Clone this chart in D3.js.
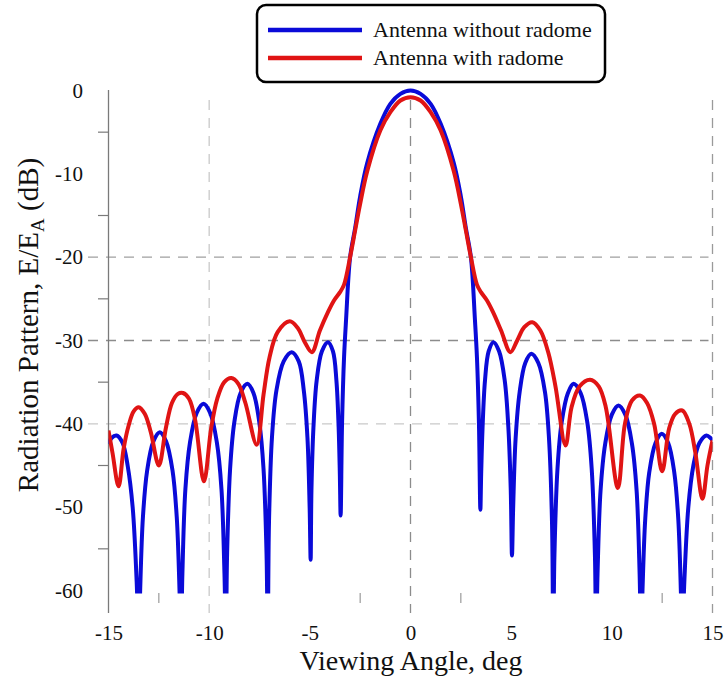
<!DOCTYPE html>
<html>
<head>
<meta charset="utf-8">
<script src="https://cdn.jsdelivr.net/npm/d3@7"></script>
<style>
  body { margin: 0; background: #fff; }
  svg { display: block; font-family: "Liberation Serif", "Times New Roman", serif; }
</style>
</head>
<body>
<svg id="chart" width="725" height="679"></svg>
<script>
// ---- data ----
const xTicks = [-15, -10, -5, 0, 5, 10, 15];
const yTicks = [0, -10, -20, -30, -40, -50, -60];
const seriesNames = ["Antenna without radome", "Antenna with radome"];

const blueAngles = [
  -15, -14.85, -14.6, -14.3, -14.05, -13.8, -13.6, -13.5,
  -13.44, -13.29, -13.08, -12.77, -12.45, -12.14, -11.82, -11.61, -11.46, -11.4,
  -11.33, -11.18, -10.95, -10.62, -10.28, -9.95, -9.62, -9.39, -9.24, -9.17,
  -9.11, -8.96, -8.75, -8.44, -8.1, -7.8, -7.51, -7.3, -7.15, -7.09,
  -7.03, -6.88, -6.66, -6.3, -5.9, -5.55, -5.3, -5.12, -5.01, -4.96,
  -4.92, -4.82, -4.66, -4.4, -4.1, -3.85, -3.68, -3.57, -3.51, -3.47,
  -3.4, -3.3, -3.2, -3.0, -2.75, -2.5, -2.15, -1.5, -1.0, -0.5, 0,
  0.5, 1.0, 1.5, 2.15, 2.5, 2.75, 3.0, 3.2, 3.3, 3.4, 3.47,
  3.51, 3.58, 3.7, 3.88, 4.12, 4.4, 4.68, 4.86, 4.98, 5.04,
  5.1, 5.22, 5.42, 5.7, 6.0, 6.35, 6.68, 6.88, 7.03, 7.09,
  7.15, 7.3, 7.51, 7.82, 8.1, 8.45, 8.78, 9.0, 9.16, 9.22,
  9.29, 9.44, 9.67, 10.0, 10.33, 10.67, 11.0, 11.23, 11.38, 11.45,
  11.51, 11.66, 11.86, 12.17, 12.48, 12.8, 13.1, 13.3, 13.44, 13.5,
  13.6, 13.8, 14.05, 14.35, 14.7, 14.9, 15
];
const blueValues = [
  -42.4, -41.7, -41.4, -42.3, -45, -50, -59, -66,
  -61, -51.2, -45.6, -42.1, -41.0, -42.1, -45.6, -51.2, -61, -66,
  -58, -47.8, -42.2, -38.7, -37.6, -38.7, -42.2, -47.8, -58, -66,
  -55.7, -45.4, -39.8, -36.3, -35.2, -36.3, -39.8, -45.4, -55.7, -66,
  -52, -41.6, -36.0, -32.5, -31.4, -32.5, -36.0, -41.6, -50, -56.3,
  -48, -40.4, -34.8, -31.3, -30.2, -31.3, -34.8, -40.4, -46, -51,
  -40, -32, -27.5, -20, -16.5, -12.7, -8.7, -4.0, -1.6, -0.4, 0,
  -0.4, -1.6, -4.0, -8.7, -12.7, -16.5, -20, -27.5, -32, -40, -50.3,
  -46, -40.4, -34.8, -31.3, -30.2, -31.3, -34.8, -40.4, -48, -55.8,
  -50, -41.8, -36.2, -32.7, -31.6, -32.7, -36.2, -41.8, -52, -66,
  -55.7, -45.4, -39.8, -36.3, -35.2, -36.3, -39.8, -45.4, -55.7, -66,
  -58, -48, -42.4, -38.9, -37.8, -38.9, -42.4, -48, -58, -66,
  -61, -51.4, -45.8, -42.3, -41.2, -42.3, -45.8, -51.4, -61, -66,
  -59, -50, -45, -42.3, -41.4, -41.7, -42
];

const redAngles = [
  -15, -14.8, -14.5, -14.25, -14.0, -13.75, -13.5, -13.2, -12.9, -12.5,
  -12.15, -11.85, -11.55, -11.3, -11.0, -10.7, -10.26, -9.9, -9.6, -9.25,
  -8.9, -8.55, -8.2, -7.64, -7.3, -7.0, -6.6, -6.0, -5.6, -5.25,
  -4.9, -4.5, -4.1, -3.8, -3.5, -3.3, -3.0, -2.75, -2.5, -2.15,
  -1.5, -1.0, -0.5, 0,
  0.5, 1.0, 1.5, 2.15, 2.5, 2.75, 3.0, 3.3, 3.5, 3.8,
  4.1, 4.5, 4.96, 5.3, 5.65, 6.05, 6.45, 6.85, 7.2, 7.7,
  8.0, 8.4, 8.92, 9.35, 9.7, 10.3, 10.65, 11.0, 11.4, 11.75,
  12.1, 12.5, 12.85, 13.15, 13.5, 13.85, 14.15, 14.5, 14.75, 15
];
const redValues = [
  -40.8, -43.5, -47.5, -43, -40.2, -38.5, -38.0, -38.8, -41, -45.0,
  -40.5, -37.5, -36.4, -36.3, -37, -39.5, -46.9, -40.5, -37, -35,
  -34.5, -35.2, -37.5, -42.5, -36.5, -32, -29, -27.7, -28.5, -30.2,
  -31.4, -28.8, -26.6, -25.2, -24.2, -23.3, -20, -16.8, -13.6, -9.7,
  -4.8, -2.6, -1.2, -0.8,
  -1.2, -2.6, -4.8, -9.7, -13.6, -16.8, -20, -23.3, -24.2, -25.2,
  -26.6, -28.8, -31.4, -30, -28.4, -27.8, -28.8, -31.5, -35.5, -42.6,
  -38, -35.5, -34.7, -35.5, -38, -47.7, -40, -37.2, -36.6, -37.5,
  -40, -45.7, -40.5, -38.8, -38.4, -40, -43.5, -49, -45, -42
];

// ---- layout ----
const svg = d3.select("#chart");
const x = d3.scaleLinear().domain([-15, 15]).range([108.5, 712.5]);
const y = d3.scaleLinear().domain([-60, 0]).range([590.5, 90.5]);
const plotTop = 100, plotBottom = 613;

// clip
svg.append("defs").append("clipPath").attr("id", "clip")
  .append("rect").attr("x", x(-15)).attr("y", 80)
  .attr("width", x(15) - x(-15)).attr("height", 593.5 - 80);

// vertical dashed grid
const vGrid = [{v: -10, c: "#c9c9c9"}, {v: 0, c: "#8c8c8c"}, {v: 15, c: "#9a9a9a"}];
svg.append("g").selectAll("line").data(vGrid).join("line")
  .attr("x1", d => x(d.v)).attr("x2", d => x(d.v))
  .attr("y1", plotTop).attr("y2", plotBottom)
  .attr("stroke", d => d.c).attr("stroke-width", 1.3)
  .attr("stroke-dasharray", "10,8");

// horizontal dashed grid
const hGrid = [{v: -20, c: "#a0a0a0"}, {v: -30, c: "#8c8c8c"}, {v: -40, c: "#c9c9c9"}];
svg.append("g").selectAll("line").data(hGrid).join("line")
  .attr("x1", 88).attr("x2", x(15) - 4)
  .attr("y1", d => y(d.v)).attr("y2", d => y(d.v))
  .attr("stroke", d => d.c).attr("stroke-width", 1.3)
  .attr("stroke-dasharray", "10,8");

// left axis line
svg.append("line").attr("x1", x(-15)).attr("x2", x(-15))
  .attr("y1", 90).attr("y2", plotBottom)
  .attr("stroke", "#7a7a7a").attr("stroke-width", 1.3);

// minor y ticks
svg.append("g").selectAll("line").data([-5, -15, -25, -35, -45, -55]).join("line")
  .attr("x1", 98).attr("x2", x(-15))
  .attr("y1", d => y(d)).attr("y2", d => y(d))
  .attr("stroke", "#7a7a7a").attr("stroke-width", 1.2);

// minor x ticks
svg.append("g").selectAll("line").data([-12.5, -2.5, 2.5, 12.5]).join("line")
  .attr("x1", d => x(d)).attr("x2", d => x(d))
  .attr("y1", 593).attr("y2", 603)
  .attr("stroke", "#9a9a9a").attr("stroke-width", 1.2);

// tick labels via axes
const yAxis = svg.append("g").attr("transform", "translate(83,0)")
  .call(d3.axisLeft(y).tickValues(yTicks).tickSize(0).tickPadding(0).tickFormat(d3.format("d")));
yAxis.select(".domain").remove();
yAxis.selectAll("text").attr("font-size", 21).attr("font-family", "Liberation Serif").attr("fill", "#111").text(d => String(d));

const xAxis = svg.append("g").attr("transform", "translate(0,625)")
  .call(d3.axisBottom(x).tickValues(xTicks).tickSize(0).tickPadding(0));
xAxis.select(".domain").remove();
xAxis.selectAll("text").attr("font-size", 21).attr("font-family", "Liberation Serif").attr("fill", "#111").text(d => String(d));

// axis titles
svg.append("text").attr("x", 411).attr("y", 670).attr("text-anchor", "middle")
  .attr("font-size", 28).attr("fill", "#111").text("Viewing Angle, deg");

const yt = svg.append("text").attr("transform", "translate(38,325) rotate(-90)")
  .attr("text-anchor", "middle").attr("font-size", 29).attr("fill", "#111");
yt.append("tspan").text("Radiation Pattern, E/E");
yt.append("tspan").attr("font-size", 19).attr("dy", 6).text("A");
yt.append("tspan").attr("dy", -6).text(" (dB)");

// lines
const line = d3.line().x(d => x(d[0])).y(d => y(d[1])).curve(d3.curveCatmullRom.alpha(0.5));
const blueData = blueAngles.map((a, i) => [a, blueValues[i]]);
const redData = redAngles.map((a, i) => [a, redValues[i]]);
const colors = ["#0a0ad8", "#e01414"];

const plot = svg.append("g").attr("clip-path", "url(#clip)");
plot.append("path").datum(blueData).attr("d", line)
  .attr("fill", "none").attr("stroke", colors[0]).attr("stroke-width", 4).attr("stroke-linejoin", "round");
plot.append("path").datum(redData).attr("d", line)
  .attr("fill", "none").attr("stroke", colors[1]).attr("stroke-width", 4).attr("stroke-linejoin", "round");

// legend
const lg = svg.append("g");
lg.append("rect").attr("x", 257).attr("y", 5).attr("width", 348).attr("height", 77)
  .attr("rx", 9).attr("fill", "#fff").attr("stroke", "#000").attr("stroke-width", 2.5);
seriesNames.forEach((n, i) => {
  const yy = 30 + i * 28;
  lg.append("line").attr("x1", 268).attr("x2", 362).attr("y1", yy).attr("y2", yy)
    .attr("stroke", colors[i]).attr("stroke-width", 4.5);
  lg.append("text").attr("x", 373).attr("y", yy + 7).attr("font-size", 22).attr("fill", "#111").text(n);
});
</script>
</body>
</html>
